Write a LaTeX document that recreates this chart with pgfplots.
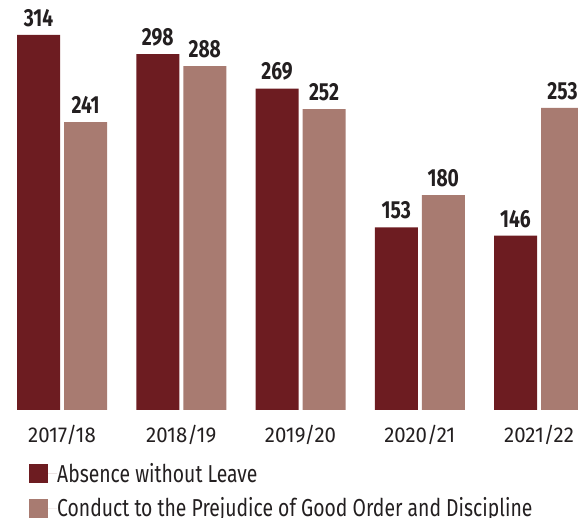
\documentclass[border=0pt]{standalone}
\usepackage{fontspec}
\setmainfont{Fira Sans}[FakeStretch=0.79, BoldFeatures={FakeStretch=0.78}]
\newfontfamily\tickfont{Fira Sans}[FakeStretch=0.95]
\usepackage{pgfplots}
\pgfplotsset{compat=1.18}
\definecolor{darkred}{HTML}{6D1C21}
\definecolor{lightred}{HTML}{A87B71}
\definecolor{txt}{HTML}{231F20}
\begin{document}
\begin{tikzpicture}
\begin{axis}[
  at={(0pt,108pt)}, anchor=south west,
  scale only axis, width=578pt, height=410pt,
  xmin=-0.52, xmax=4.327, ymin=0, ymax=343.3,
  clip=false,
  ybar=4pt, bar width=43pt,
  xtick={0,1,2,3,4},
  xticklabels={2017/18,2018/19,2019/20,2020/21,2021/22},
  ytick=\empty,
  major tick length=0pt,
  axis line style={draw=none},
  /pgf/number format/assume math mode=true,
  xticklabel style={font=\tickfont\fontsize{21.5}{26}\selectfont, text=txt, inner sep=0pt, yshift=-15pt},
  nodes near coords,
  every node near coord/.append style={font=\bfseries\fontsize{24.7}{28}\selectfont, text=txt, inner sep=0pt, yshift=8pt},
  legend style={at={(axis description cs:0.0502,-0.1293)}, anchor=north west, draw=none, fill=none, inner sep=0pt, font=\fontsize{24.5}{28}\selectfont, text=txt, row sep=14pt, nodes={inner sep=0pt}},
  legend cell align=left,
  legend image code/.code={\fill[#1,draw=none] (0pt,-9.5pt) rectangle (19pt,9.5pt); \path (0pt,0pt) -- (28pt,0pt);},
]
\addplot[fill=darkred, draw=none] coordinates {(0,314) (1,298) (2,269) (3,153) (4,146)};
\addplot[fill=lightred, draw=none] coordinates {(0,241) (1,288) (2,252) (3,180) (4,253)};
\legend{Absence without Leave, Conduct to the Prejudice of Good Order and Discipline}
\end{axis}
\pgfresetboundingbox
\path (0pt,0pt) rectangle (578pt,518pt);
\end{tikzpicture}
\end{document}
